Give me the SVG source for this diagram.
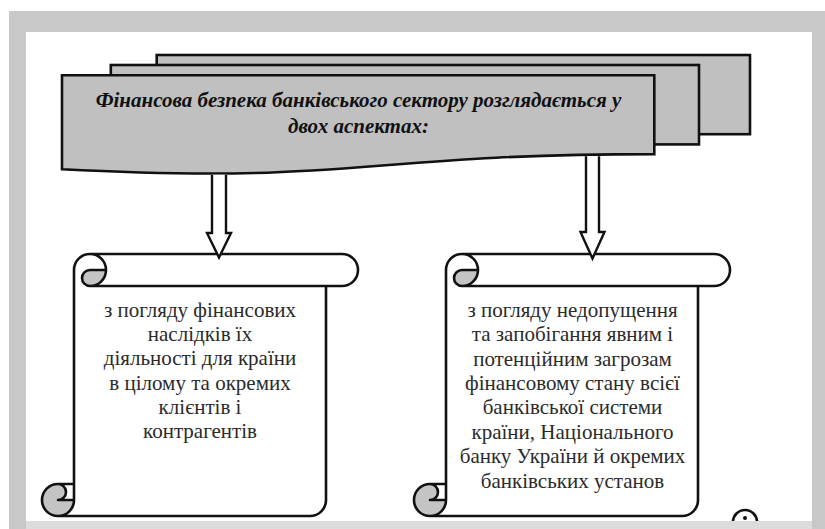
<svg xmlns="http://www.w3.org/2000/svg" width="825" height="529" viewBox="0 0 825 529">
<style>
.doc{fill:#c0c0c0;stroke:#111;stroke-width:2.6;stroke-linejoin:miter}
.scroll{fill:#fff;stroke:none}
.ear{fill:#c4c4c4;stroke:none}
.sline{fill:none;stroke:#111;stroke-width:2.6;stroke-linejoin:round}
.arrow{fill:#fff;stroke:#111;stroke-width:2.4;stroke-linejoin:miter}
.h{font-family:"Liberation Serif","Times New Roman",serif;font-weight:bold;font-style:italic;font-size:21px;fill:#111;text-anchor:middle}
.t{font-family:"Liberation Serif","Times New Roman",serif;font-size:21px;fill:#2a2a2a;text-anchor:middle}
</style>
<defs>
<g id="scrollShape">
<path class="scroll" d="M74 484 L74 270 A16 16 0 0 1 90 254 L342 254 A16 16 0 0 1 342 286 L326 286 L326 500 A16 16 0 0 1 310 516 L58 516 A16 16 0 0 1 58 484 Z"/>
<path class="ear" d="M106 270 A16 16 0 0 1 90 286 A8 8 0 0 1 90 270 Z"/>
<path class="ear" d="M74 500 A16 16 0 1 1 58 484 A8 8 0 0 1 58 500 Z"/>
<path class="sline" d="M74 484 L74 270 A16 16 0 0 1 90 254 L342 254 A16 16 0 0 1 342 286 L326 286 L326 500 A16 16 0 0 1 310 516 L58 516 A16 16 0 0 1 58 484 Z M90 254 A16 16 0 0 1 90 286 A8 8 0 0 1 90 270 L106 270 M326 286 L90 286 M58 484 A8 8 0 0 1 58 500 L74 500 M58 516 A16 16 0 0 0 74 500 L74 484"/>
</g>
<clipPath id="pageClip"><rect x="26" y="32" width="786" height="489"/></clipPath>
</defs>
<rect x="0" y="0" width="825" height="529" fill="#fff"/>
<rect x="9" y="11" width="816" height="518" fill="#c8c8c8"/>
<rect x="26" y="32" width="786" height="489" fill="#fff"/>
<rect x="26" y="521" width="786" height="8" fill="#dcdcdc"/>

<g id="header">
<rect class="doc" x="156.7" y="55" width="593.3" height="79.2"/>
<rect class="doc" x="110.8" y="65" width="588.2" height="79.4"/>
<path class="doc" d="M62 169.3 C358.2 184.5 358.2 154.1 654.3 154.1 L654.3 75.2 L62 75.2 Z"/>
<text class="h" x="358.5" y="107">Фінансова безпека банківського сектору розглядається у</text>
<text class="h" x="358.5" y="133">двох аспектах:</text>
</g>

<g id="scroll-left">
<use href="#scrollShape"/>
<text class="t" x="200" y="317">з погляду фінансових</text>
<text class="t" x="200" y="341">наслідків їх</text>
<text class="t" x="200" y="365">діяльності для країни</text>
<text class="t" x="200" y="390">в цілому та окремих</text>
<text class="t" x="200" y="414">клієнтів і</text>
<text class="t" x="200" y="438">контрагентів</text>
</g>

<g id="scroll-right">
<use href="#scrollShape" transform="translate(372 0)"/>
<text class="t" x="572.5" y="317">з погляду недопущення</text>
<text class="t" x="572.5" y="341">та запобігання явним і</text>
<text class="t" x="572.5" y="366">потенційним загрозам</text>
<text class="t" x="572.5" y="390">фінансовому стану всієї</text>
<text class="t" x="572.5" y="414">банківської системи</text>
<text class="t" x="572.5" y="439">країни, Національного</text>
<text class="t" x="572.5" y="463">банку України й окремих</text>
<text class="t" x="572.5" y="488">банківських установ</text>
</g>

<g id="connectors">
<path class="arrow" d="M212 174.8 L212 233 L207 233 L219 257.5 L231 233 L226 233 L226 174.8"/>
<path class="arrow" d="M586 156.2 L586 232 L580.5 232 L592.5 258.5 L604.5 232 L599 232 L599 156.2"/>
</g>

<g id="mark" clip-path="url(#pageClip)">
<circle cx="745" cy="522" r="12" fill="#fff" stroke="#111" stroke-width="2.6"/>
<circle cx="745" cy="518" r="2" fill="#111"/>
</g>
</svg>
